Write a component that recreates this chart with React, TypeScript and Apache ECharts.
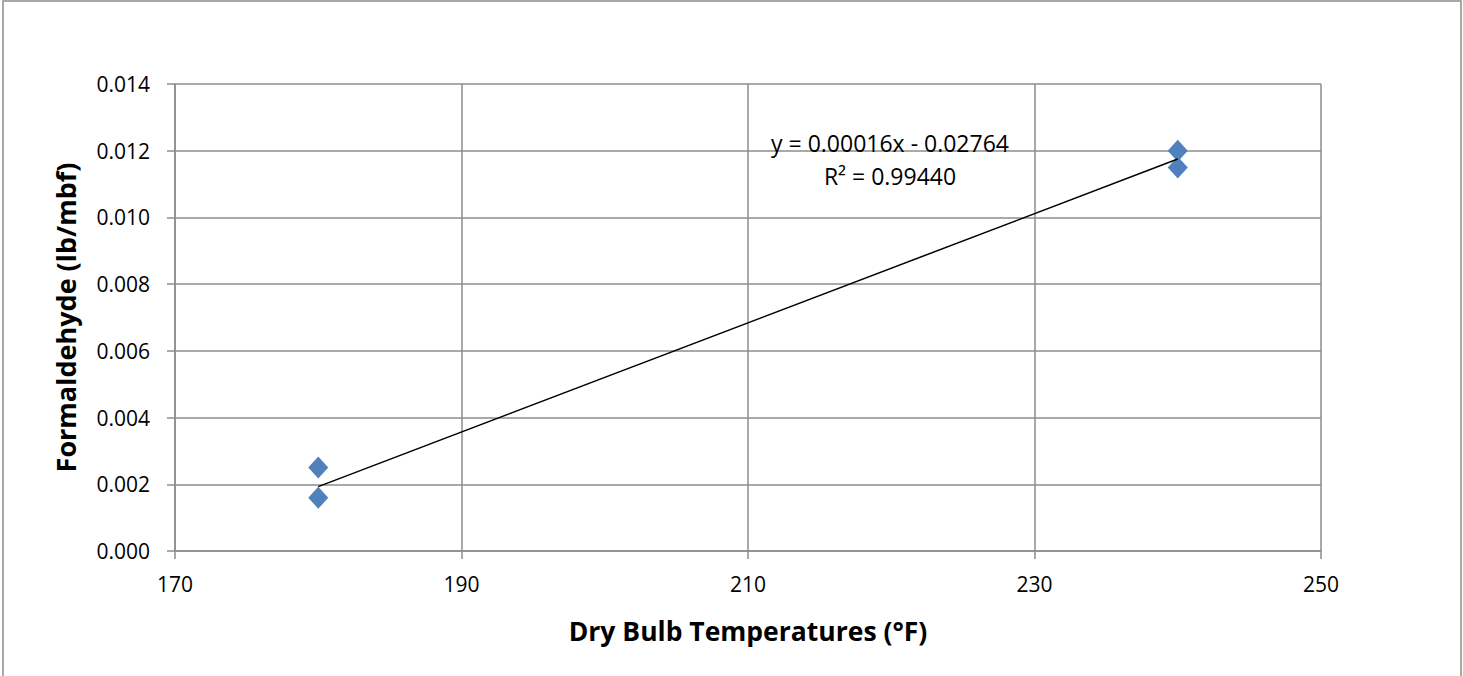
import React, { useEffect, useRef } from "react";
import * as echarts from "echarts";

const pointX = [180, 180, 240, 240];
const pointY = [0.0025, 0.0016, 0.012, 0.0115];
const trendX = [180, 240];
const trendY = [0.00193, 0.01175];
const equationLines = ["y = 0.00016x - 0.02764", "R² = 0.99440"];
const xTitle = "Dry Bulb Temperatures (°F)";
const yTitle = "Formaldehyde (lb/mbf)";

const FONT = "'Open Sans', 'Noto Sans', sans-serif";

export default function App() {
  const ref = useRef<HTMLDivElement>(null);
  useEffect(() => {
    document.body.style.margin = "0";
    const chart = echarts.init(ref.current!, null, { renderer: "svg" });
    const gridColor = "#8c8c8c";
    chart.setOption({
      animation: false,
      backgroundColor: "#ffffff",
      grid: { left: 175, right: 142, top: 84, bottom: 125 },
      xAxis: {
        type: "value",
        min: 170,
        max: 250,
        interval: 20,
        name: xTitle,
        nameLocation: "middle",
        nameGap: 66,
        nameTextStyle: { fontFamily: FONT, fontSize: 26.5, fontWeight: "bold", color: "#000" },
        axisLine: { show: true, lineStyle: { color: gridColor, width: 1.5 } },
        axisTick: { show: true, length: 8, lineStyle: { color: gridColor, width: 1.5 } },
        axisLabel: { fontFamily: FONT, fontSize: 21, color: "#000", margin: 22 },
        splitLine: { show: true, lineStyle: { color: gridColor, width: 1.5 } },
      },
      yAxis: {
        type: "value",
        min: 0,
        max: 0.014,
        interval: 0.002,
        name: yTitle,
        nameLocation: "middle",
        nameGap: 96,
        nameTextStyle: { fontFamily: FONT, fontSize: 27, fontWeight: "bold", color: "#000" },
        axisLine: { show: true, lineStyle: { color: gridColor, width: 1.5 } },
        axisTick: { show: true, length: 8, lineStyle: { color: gridColor, width: 1.5 } },
        axisLabel: {
          fontFamily: FONT,
          fontSize: 21,
          color: "#000",
          margin: 25,
          formatter: (v: number) => v.toFixed(3),
        },
        splitLine: { show: true, lineStyle: { color: gridColor, width: 1.5 } },
      },
      graphic: [
        {
          type: "rect",
          shape: { x: 3, y: 1, width: 1458, height: 720 },
          style: { fill: "none", stroke: "#8c8c8c", lineWidth: 1.5 },
          silent: true,
        },
        {
          type: "text",
          x: 890,
          y: 143,
          style: {
            text: equationLines[0],
            font: `23px ${FONT}`,
            fill: "#000",
            align: "center",
            verticalAlign: "middle",
          },
          z: 10,
        },
        {
          type: "text",
          x: 890,
          y: 176,
          style: {
            text: equationLines[1],
            font: `23px ${FONT}`,
            fill: "#000",
            align: "center",
            verticalAlign: "middle",
          },
          z: 10,
        },
      ],
      series: [
        {
          type: "line",
          data: trendX.map((x, i) => [x, trendY[i]]),
          symbol: "none",
          lineStyle: { color: "#000", width: 1.5 },
          z: 3,
        },
        {
          type: "scatter",
          data: pointX.map((x, i) => [x, pointY[i]]),
          symbol: "diamond",
          symbolSize: [20, 22],
          itemStyle: { color: "#4f81bd", opacity: 1 },
          z: 2,
        },
      ],
    });
    return () => chart.dispose();
  }, []);
  return (
    <div
      ref={ref}
      style={{ position: "absolute", left: 0, top: 0, width: 1463, height: 676 }}
    />
  );
}
